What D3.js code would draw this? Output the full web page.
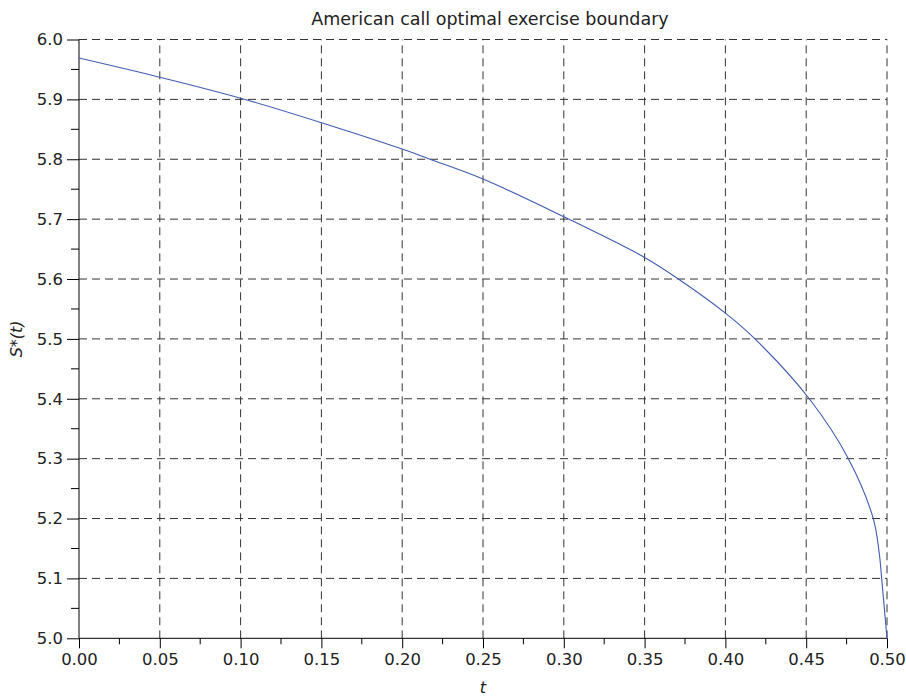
<!DOCTYPE html>
<html lang="en">
<head>
  <meta charset="UTF-8">
  <title>American call optimal exercise boundary</title>
  <style>
  body {
    margin: 0;
    background: white;
  }
  svg text {
    font-family: "DejaVu Sans", sans-serif;
    fill: #222;
  }
  .grid line {
    stroke: #333;
    stroke-dasharray: 8,5;
  }
  </style>
</head>
<body>
  <script src="https://d3js.org/d3.v7.min.js"></script>
  <script>

  // boundary S*(t)
  var tValues = [0, 0.05, 0.10, 0.15, 0.20, 0.2172, 0.25, 0.30, 0.35, 0.3709, 0.40, 0.4183,
                 0.4519, 0.4761, 0.4915, 0.4952, 0.4967, 0.50];
  var sValues = [5.969, 5.937, 5.902, 5.861, 5.817, 5.800, 5.767, 5.704, 5.636, 5.600, 5.543, 5.500,
                 5.400, 5.300, 5.200, 5.142, 5.100, 5.000];
  var xTicks = [0, 0.05, 0.10, 0.15, 0.20, 0.25, 0.30, 0.35, 0.40, 0.45, 0.50];
  var yTicks = [5.0, 5.1, 5.2, 5.3, 5.4, 5.5, 5.6, 5.7, 5.8, 5.9, 6.0];

  var width = 906;
  var height = 696;
  var plotLeft = 79, plotRight = 887, plotTop = 39.5, plotBottom = 638.3;

  var svg = d3.select('body').append('svg')
              .attr('width', width)
              .attr('height', height);

  var x = d3.scaleLinear().domain([0, 0.5]).range([plotLeft, plotRight]);
  var y = d3.scaleLinear().domain([5.0, 6.0]).range([plotBottom, plotTop]);

  var grid = svg.append('g').attr('class', 'grid');

  grid.selectAll('.vx')
      .data(xTicks.slice(1))
      .enter()
      .append('line')
      .attr('x1', function (d) { return x(d); })
      .attr('x2', function (d) { return x(d); })
      .attr('y1', plotBottom)
      .attr('y2', plotTop);

  grid.selectAll('.hy')
      .data(yTicks.slice(1))
      .enter()
      .append('line')
      .attr('x1', plotLeft)
      .attr('x2', plotRight)
      .attr('y1', function (d) { return y(d); })
      .attr('y2', function (d) { return y(d); });

  var xMinor = d3.range(0.025, 0.5, 0.05);
  var yMinor = d3.range(5.05, 6.0, 0.1);

  var xAxis = d3.axisBottom(x)
                .tickValues(xTicks)
                .tickFormat(d3.format('.2f'))
                .tickSize(10)
                .tickPadding(5);

  var yAxis = d3.axisLeft(y)
                .tickValues(yTicks)
                .tickFormat(d3.format('.1f'))
                .tickSize(12)
                .tickPadding(4);

  var gx = svg.append('g')
              .attr('transform', 'translate(0,' + plotBottom + ')')
              .call(xAxis);

  gx.append('g').selectAll('line')
    .data(xMinor)
    .enter()
    .append('line')
    .attr('x1', function (d) { return x(d); })
    .attr('x2', function (d) { return x(d); })
    .attr('y1', 0)
    .attr('y2', 6)
    .attr('stroke', '#000');

  var gy = svg.append('g')
              .attr('transform', 'translate(' + plotLeft + ',0)')
              .call(yAxis);

  gy.append('g').selectAll('line')
    .data(yMinor)
    .enter()
    .append('line')
    .attr('y1', function (d) { return y(d); })
    .attr('y2', function (d) { return y(d); })
    .attr('x1', 0)
    .attr('x2', -8)
    .attr('stroke', '#000');

  [gx, gy].forEach(function (g) {
    g.select('.domain').attr('stroke', '#000');
    g.selectAll('.tick line').attr('stroke', '#000');
    g.selectAll('.tick text')
     .attr('font-family', '"DejaVu Sans", sans-serif')
     .attr('font-size', 16.5)
     .attr('fill', '#222');
  });
  gx.select('.domain').attr('d', 'M' + plotLeft + ',0H' + plotRight);
  gy.select('.domain').attr('d', 'M0,' + plotBottom + 'V' + plotTop);

  var line = d3.line()
               .x(function (d) { return x(d[0]); })
               .y(function (d) { return y(d[1]); })
               .curve(d3.curveCatmullRom.alpha(0.5));

  svg.append('path')
     .datum(d3.zip(tValues, sValues))
     .attr('fill', 'none')
     .attr('stroke', '#3f5bb0')
     .attr('stroke-width', 1.1)
     .attr('d', line);

  svg.append('text')
     .attr('x', 490)
     .attr('y', 25)
     .attr('text-anchor', 'middle')
     .attr('font-size', 17.5)
     .text('American call optimal exercise boundary');

  svg.append('text')
     .attr('x', (plotLeft + plotRight) / 2)
     .attr('y', 693)
     .attr('text-anchor', 'middle')
     .attr('font-size', 16)
     .attr('font-style', 'italic')
     .text('t');

  svg.append('text')
     .attr('transform', 'translate(22,' + ((plotTop + plotBottom) / 2) + ') rotate(-90)')
     .attr('text-anchor', 'middle')
     .attr('font-size', 16)
     .attr('font-style', 'italic')
     .text('S*(t)');

  </script>
</body>
</html>
